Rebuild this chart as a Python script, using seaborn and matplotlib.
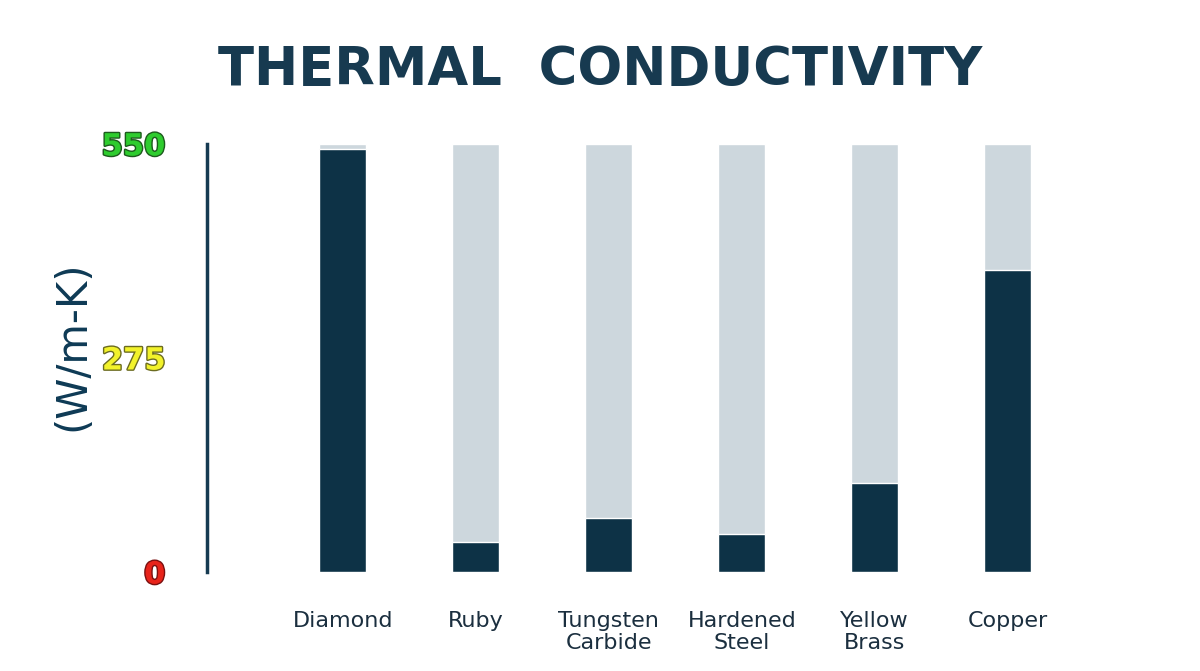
import matplotlib
matplotlib.use('Agg')
import matplotlib.pyplot as plt
import matplotlib.patheffects as pe
import seaborn as sns
import pandas as pd

materials = ['Diamond', 'Ruby', 'Tungsten\nCarbide', 'Hardened\nSteel', 'Yellow\nBrass', 'Copper']
conductivity = [543, 39, 70, 49, 114, 388]
tick_values = [0, 275, 550]
tick_colors = ['#e8231a', '#f2f22a', '#2ecc2e']

dark = '#033550'
light = '#cad8e0'

sns.set_theme(style='white')
plt.rcParams['font.family'] = ['DejaVu Sans']

df = pd.DataFrame({'material': materials, 'value': conductivity,
                   'full': [tick_values[-1]] * len(materials)})

fig = plt.figure(figsize=(12, 6.71), dpi=100)
ax = fig.add_axes([0.1725, 0.1475, 0.745, 0.638])

sns.barplot(data=df, x='material', y='full', color=light, width=0.353, ax=ax)
sns.barplot(data=df, x='material', y='value', color=dark, width=0.353, ax=ax)

ax.set_xlim(-1.02, 5.7)
ax.set_ylim(0, tick_values[-1])
ax.set_xlabel('')
ax.set_ylabel('')
sns.despine(ax=ax, bottom=True)
ax.spines['left'].set_color('#163b52')
ax.spines['left'].set_linewidth(2.5)

ax.set_xticks(range(len(materials)))
ax.set_xticklabels(materials, fontsize=16, color='#1b2f3f', linespacing=1.15, va='top')
ax.tick_params(axis='x', length=0, pad=28)

ax.set_yticks(tick_values)
ax.set_yticklabels([str(v) for v in tick_values], fontsize=22, fontweight='bold')
ax.tick_params(axis='y', length=0, pad=30)
for lab, c in zip(ax.get_yticklabels(), tick_colors):
    lab.set_color(c)
    lab.set_path_effects([pe.withStroke(linewidth=2, foreground='#6b6b20' if c == '#f2f22a' else '#1d5a1d' if c == '#2ecc2e' else '#7a1010')])

fig.text(0.06, 0.485, '(W/m-K)', rotation=90, fontsize=30, color='#0e3a55',
         ha='center', va='center')
fig.text(0.5, 0.895, 'THERMAL  CONDUCTIVITY', fontsize=38, fontweight='bold',
         color='#173a50', ha='center', va='center')

fig.savefig('out.png', dpi=100)
